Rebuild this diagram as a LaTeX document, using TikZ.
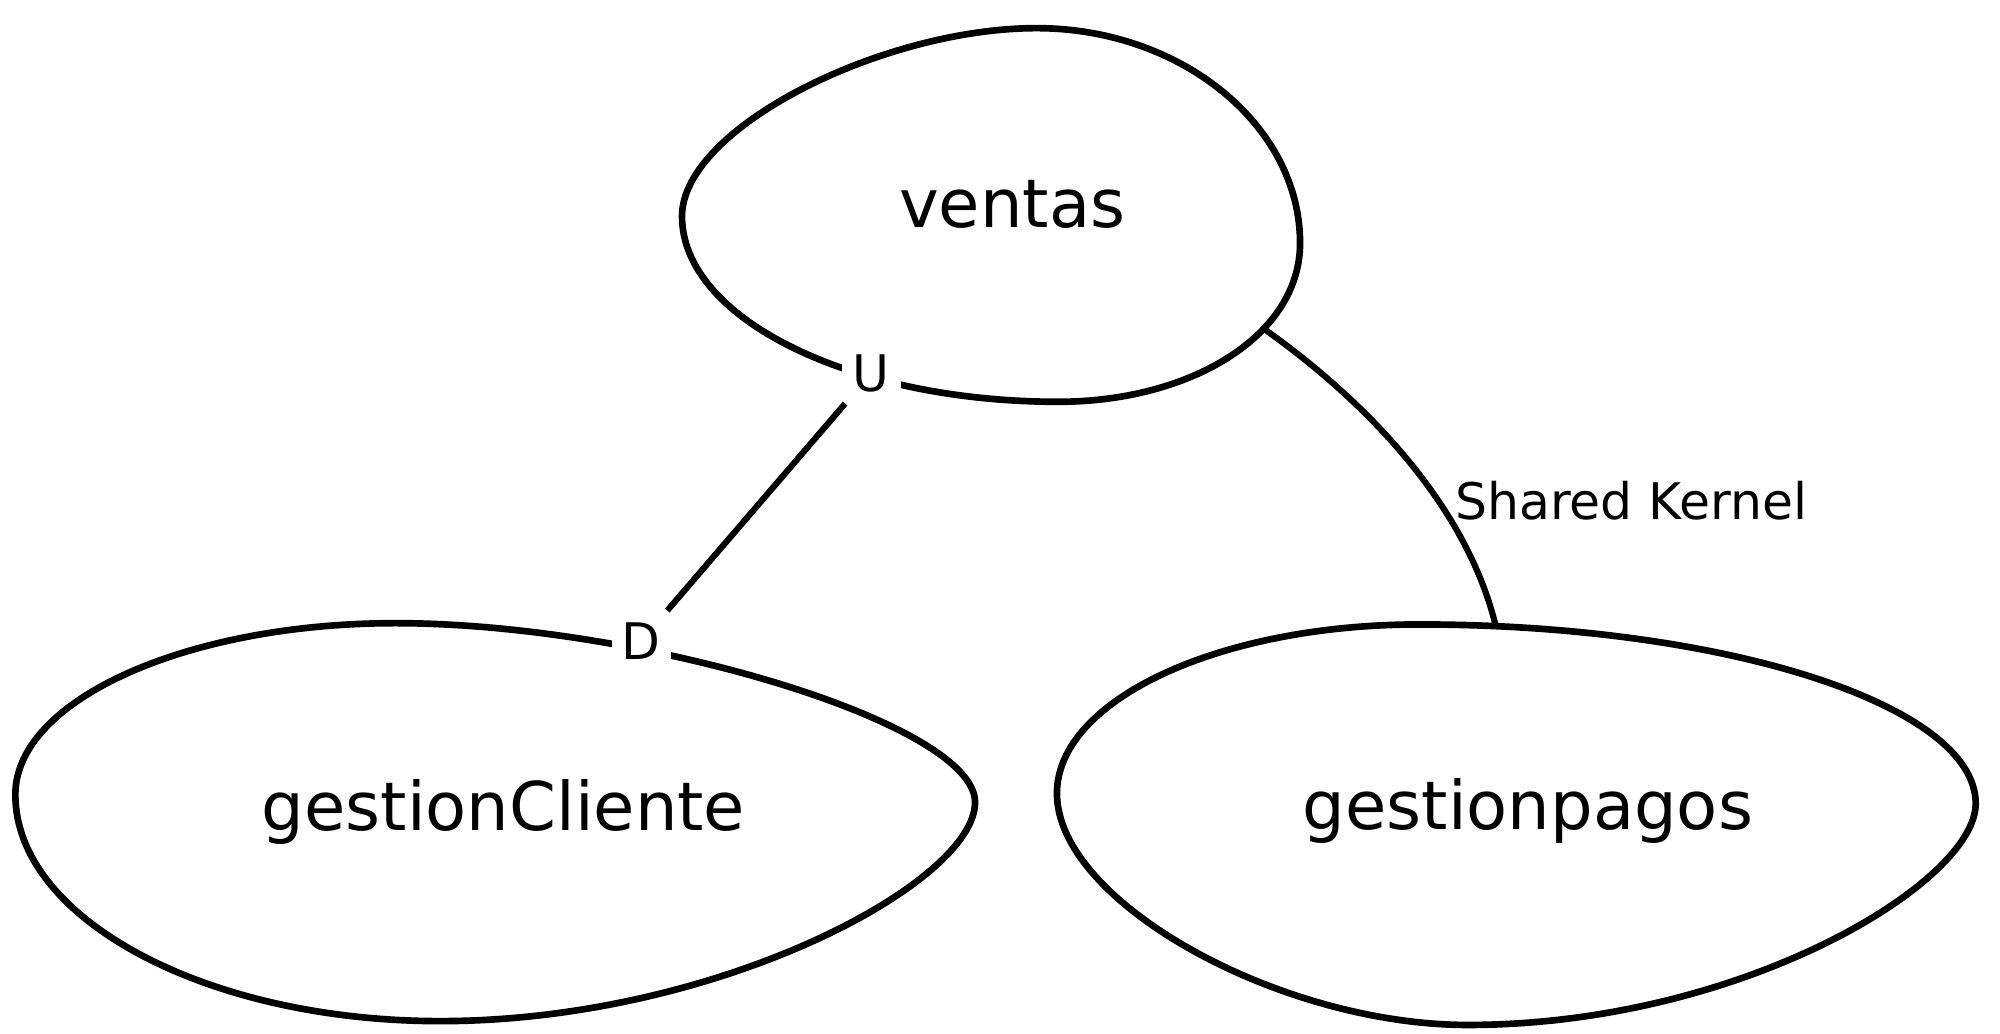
\documentclass[tikz,border=0pt]{standalone}
\usepackage{fontspec}
\setmainfont{DejaVu Sans}
\begin{document}
\begin{tikzpicture}[x=0.5pt,y=-0.5pt,
  ctxshape/.style={line width=2.6pt},
  ctxlabel/.style={font=\fontsize{26.25pt}{30pt}\selectfont, inner sep=0pt},
  rellabel/.style={font=\fontsize{19.7pt}{22pt}\selectfont, inner sep=0pt},
  rolebox/.style={rellabel, fill=white, minimum width=23pt, minimum height=23.5pt},
  rel/.style={line width=2.4pt}]
\useasboundingbox (0,0) rectangle (1563,808);
% context shapes
\draw[ctxshape] (810,22) .. controls (690,22) and (533,100) .. (533,169)
  .. controls (533,249) and (665,314) .. (827,314)
  .. controls (931,314) and (1016,262) .. coordinate[pos=0.65] (vk) (1016,190)
  .. controls (1016,98) and (923,22) .. cycle;
\draw[ctxshape] (309,487) .. controls (500,487) and (762,565) .. (762,627)
  .. controls (762,690) and (560,798) .. (344,798)
  .. controls (161,798) and (12,718) .. (12,621)
  .. controls (12,547) and (146,487) .. cycle;
\draw[ctxshape] (1109,488) .. controls (1348,488) and (1544,551) .. coordinate[pos=0.085] (pk) (1544,628)
  .. controls (1544,690) and (1360,801) .. (1147,801)
  .. controls (1000,801) and (826,705) .. (826,620)
  .. controls (826,547) and (953,488) .. cycle;
% context names
\node[ctxlabel, anchor=base] (ventas) at (791,178) {ventas};
\node[ctxlabel, anchor=base] (cliente) at (393.5,649) {gestionCliente};
\node[ctxlabel, anchor=base] (pagos) at (1194,648) {gestionpagos};
% shared kernel relation
\draw[rel] (vk) .. controls (1060,308) and (1145,390) .. (pk);
\node[rellabel, anchor=base west] (sk) at (1137,406) {Shared Kernel};
% upstream / downstream relation
\node[rolebox] (U) at (681,291.5) {U};
\node[rolebox] (D) at (501,501) {D};
\draw[rel] (U) -- (D);
\end{tikzpicture}
\end{document}
